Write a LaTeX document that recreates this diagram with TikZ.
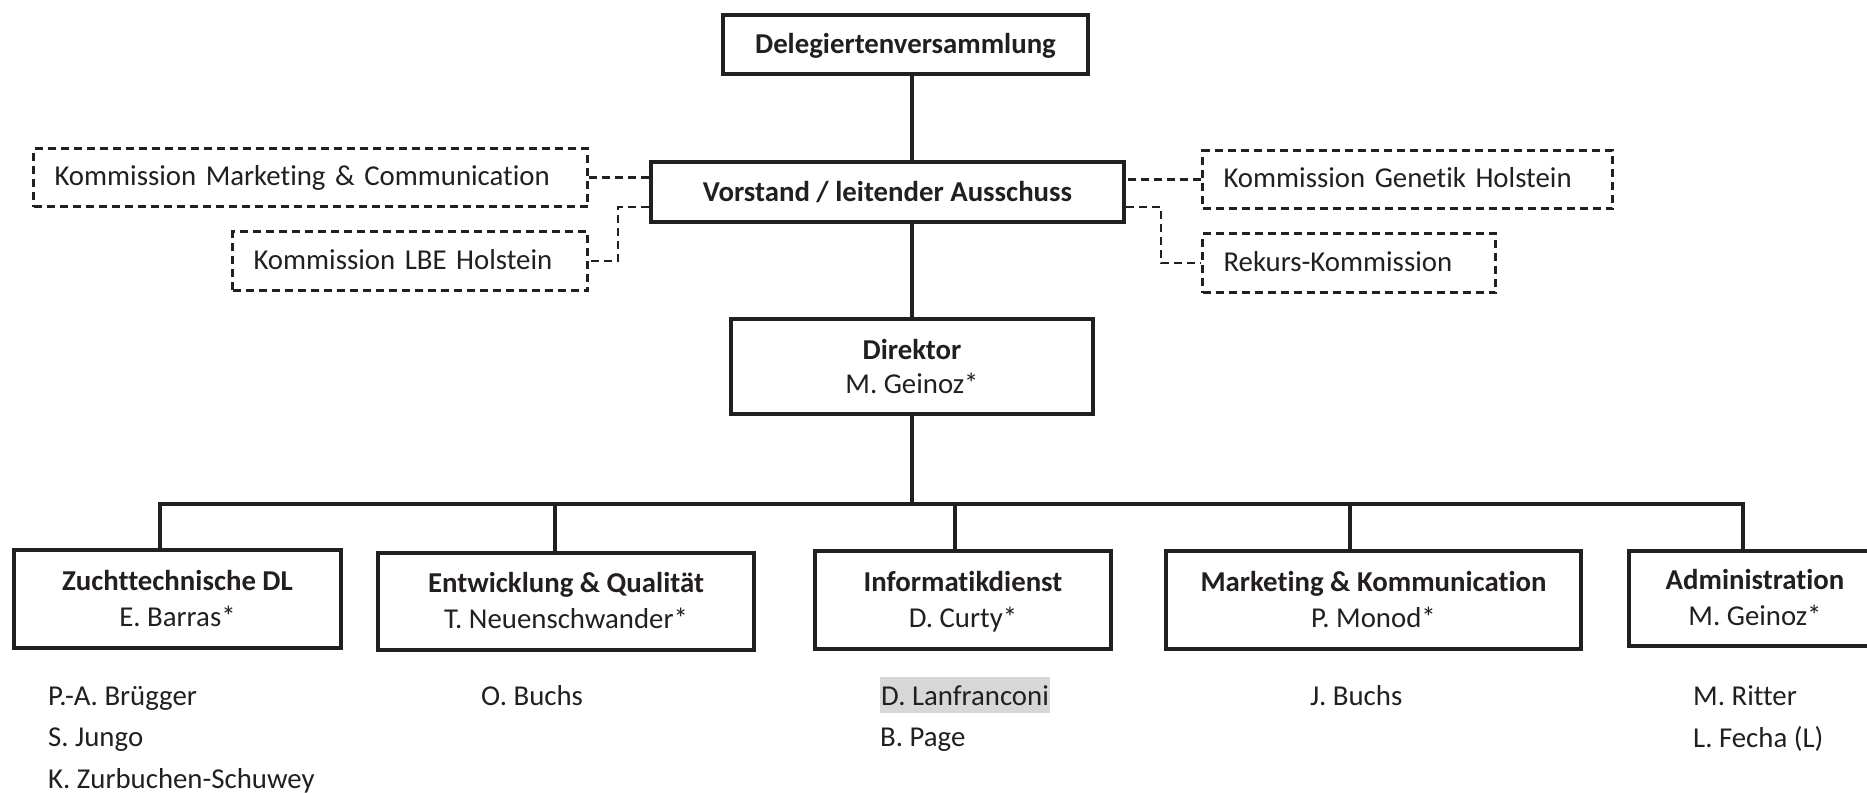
\documentclass[tikz,border=0pt]{standalone}
\usepackage{fontspec}
\setmainfont{Carlito}[Ligatures={NoCommon,NoContextual}, Contextuals=NoAlternate]
\definecolor{ink}{HTML}{231F20}
\definecolor{hl}{HTML}{D6D7D9}
\newcommand\twoln[2]{\rule{0pt}{26pt}\textbf{#1}\\#2\rule[-8pt]{0pt}{8pt}}
\newcommand\dirln[2]{\rule{0pt}{27pt}\textbf{#1}\\#2\rule[-8pt]{0pt}{8pt}}
\tikzset{
  box/.style={draw=ink, line width=4pt, rectangle, inner sep=0pt, text=ink, align=center,
    font=\fontsize{28.8}{36}\selectfont},
  onebox/.style={box, font=\fontsize{28.8}{36}\selectfont\bfseries, text height=22pt, text depth=4pt},
  dirbox/.style={box, font=\fontsize{28.8}{34}\selectfont},
  kom/.style={draw=ink, line width=2.1pt, dash pattern=on 8pt off 5pt, rectangle,
    inner ysep=0pt, inner xsep=21pt, text=ink, align=left, text height=20pt, text depth=4pt,
    font=\fontsize{28.8}{36}\selectfont},
  conn/.style={draw=ink, line width=3.5pt},
  dconn/.style={draw=ink, line width=2.1pt, dash pattern=on 8pt off 5pt},
  person/.style={anchor=base west, inner sep=0pt, text=ink, font=\fontsize{28.8}{36}\selectfont},
}
\begin{document}
\begin{tikzpicture}[x=1pt, y=-1pt]
\useasboundingbox (0,0) rectangle (1867,792);
\clip (0,0) rectangle (1867,792);
\fill[white] (0,0) rectangle (1867,792);

% top boxes
\node[onebox, minimum width=365pt, minimum height=59.5pt] (del) at (905.5,44.7) {Delegiertenversammlung};
\node[onebox, minimum width=473pt, minimum height=60pt] (vor) at (887.5,192) {Vorstand / leitender Ausschuss};
\node[dirbox, minimum width=362pt, minimum height=95pt] (dir) at (912,366.7) {\dirln{Direktor}{M. Geinoz*}};

% commissions
\node[kom, minimum width=554pt, text width=512pt, minimum height=58pt] (km) at (310.5,177.5) {Kommission Marketing \& Communication};
\node[kom, minimum width=355pt, text width=313pt, minimum height=59pt] (klbe) at (410,261) {Kommission LBE Holstein};
\node[kom, minimum width=410pt, text width=368pt, minimum height=58pt] (kg) at (1407.5,179.5) {Kommission Genetik Holstein};
\node[kom, minimum width=293pt, text width=251pt, minimum height=59pt] (kr) at (1349,263) {Rekurs-Kommission};

% departments
\node[box, minimum width=327pt, minimum height=98pt] (zt) at (177.5,599) {\twoln{Zuchttechnische DL}{E. Barras*}};
\node[box, minimum width=376pt, minimum height=97pt] (ew) at (566,601.5) {\twoln{Entwicklung \& Qualität}{T. Neuenschwander*}};
\node[box, minimum width=296pt, minimum height=98pt] (inf) at (963,600) {\twoln{Informatikdienst}{D. Curty*}};
\node[box, minimum width=415pt, minimum height=98pt] (mk) at (1373.5,600) {\twoln{Marketing \& Kommunication}{P. Monod*}};
\node[box, minimum width=252pt, minimum height=95pt] (adm) at (1755,598.5) {\twoln{Administration}{M. Geinoz*}};

% solid connectors
\draw[conn] (del.south -| dir.north) -- (vor.north -| dir.north);
\draw[conn] (vor.south -| dir.north) -- (dir.north);
\coordinate (bus) at (912,504);
\coordinate (b1) at (160,504);
\coordinate (b2) at (555,504);
\coordinate (b3) at (955,504);
\coordinate (b4) at (1350,504);
\coordinate (b5) at (1743,504);
\draw[conn] (dir.south) -- (bus);
\draw[conn] (zt.north -| b1) -- (b1) -- (b5) -- (adm.north -| b5);
\draw[conn] (b2) -- (b2 |- ew.north);
\draw[conn] (b3) -- (b3 |- inf.north);
\draw[conn] (b4) -- (b4 |- mk.north);

% dashed connectors
\draw[dconn] (km.east) -- (km.east -| vor.west);
\draw[dconn] ([yshift=17pt]vor.south west) -- ++(-31,0) |- (klbe.east);
\draw[dconn] (kg.west) -- (kg.west -| vor.east);
\draw[dconn] ([yshift=17pt]vor.south east) -- ++(35,0) |- (kr.west);

% staff lists
\node[person] (p1) at (48,705) {P.-A. Brügger};
\node[person] (p2) at (48,746) {S. Jungo};
\node[person] (p3) at (48,788) {K. Zurbuchen-Schuwey};
\node[person] (p4) at (481,705) {O. Buchs};
\node[person, fill=hl, inner xsep=1pt, text height=28pt, text depth=8pt] (p5) at (880,705) {D. Lanfranconi};
\node[person] (p6) at (880,746) {B. Page};
\node[person] (p7) at (1310,705) {J. Buchs};
\node[person] (p8) at (1693,705) {M. Ritter};
\node[person] (p9) at (1693,747) {L. Fecha (L)};
\end{tikzpicture}
\end{document}
